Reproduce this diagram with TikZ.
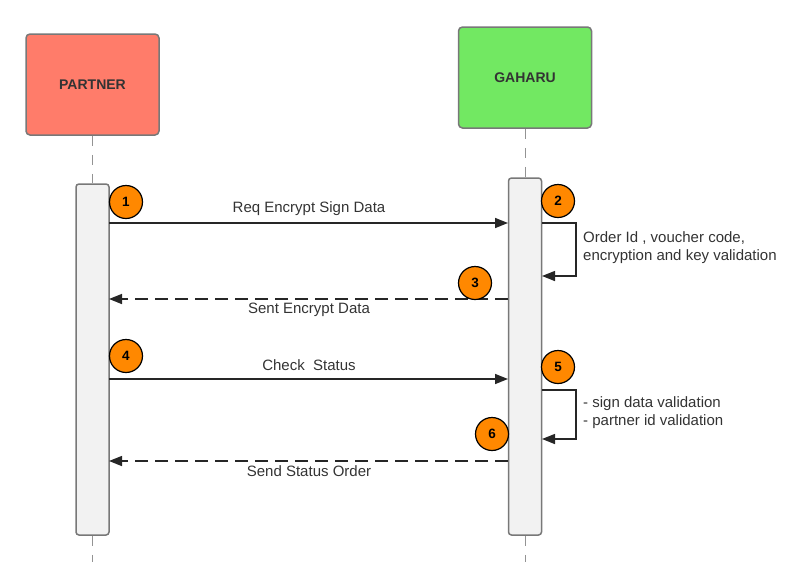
\documentclass[tikz,border=0pt]{standalone}
\usepackage{fontspec}
\setmainfont{Liberation Sans}
\usetikzlibrary{arrows.meta}
\definecolor{partnerred}{RGB}{255,124,106}
\definecolor{gaharugreen}{RGB}{114,232,98}
\definecolor{boxgray}{RGB}{120,120,120}
\definecolor{barfill}{RGB}{242,242,242}
\definecolor{txtgray}{RGB}{51,51,51}
\definecolor{stepor}{RGB}{255,136,0}
\tikzset{
  actor/.style={draw=boxgray, line width=1.5pt, rounded corners=4pt, inner sep=0pt,
    minimum width=133pt, minimum height=101pt, text=txtgray,
    font=\fontsize{14pt}{16pt}\selectfont\bfseries},
  actbar/.style={draw=boxgray, line width=1.5pt, fill=barfill, rounded corners=3pt,
    inner sep=0pt, minimum width=33pt},
  lifeline/.style={draw=boxgray!80, line width=1pt, dash pattern=on 10pt off 9pt},
  msg/.style={draw=black!85, line width=1.5pt, -{Triangle[length=13pt,width=10pt]}},
  retmsg/.style={msg, dash pattern=on 13pt off 7pt},
  stepnum/.style={circle, draw=black, line width=1.2pt, fill=stepor, minimum size=33pt,
    inner sep=0pt, font=\fontsize{13.5pt}{15pt}\selectfont\bfseries},
  msglabel/.style={text=txtgray, font=\fontsize{15pt}{18pt}\selectfont, inner sep=0pt},
  notelabel/.style={text=txtgray, font=\fontsize{15pt}{18pt}\selectfont, inner sep=0pt,
    align=left, anchor=west}
}
\begin{document}
\begin{tikzpicture}[x=1pt,y=-1pt]
\useasboundingbox (0,0) rectangle (802,576);
% actors
\node[actor, fill=partnerred] (partner) at (92.5,84.5) {PARTNER};
\node[actor, fill=gaharugreen] (gaharu) at (525,77.5) {GAHARU};
% activation bars
\node[actbar, minimum height=351pt] (barL) at (92.5,359.5) {};
\node[actbar, minimum height=357pt] (barR) at (525,356.5) {};
% lifelines
\coordinate (endL) at (92.5,562);
\coordinate (endR) at (525,562);
\draw[lifeline] (partner.south) -- (barL.north);
\draw[lifeline] (gaharu.south) -- (barR.north);
\draw[lifeline] (barL.south) -- (endL);
\draw[lifeline] (barR.south) -- (endR);
% message 1
\coordinate (m1s) at (109,223);
\coordinate (m1e) at (508,223);
\draw[msg] (m1s) -- (m1e);
\node[msglabel] (l1) at (309,209) {Req Encrypt Sign Data};
\node[stepnum] (c1) at (126,202) {1};
% self call 2
\coordinate (m2s) at (542,223);
\coordinate (m2e) at (542,276);
\draw[msg] (m2s) -- ++(34,0) |- (m2e);
\node[notelabel] (l2) at (583,248) {Order Id , voucher code,\\encryption and key validation};
\node[stepnum] (c2) at (558,201) {2};
% message 3
\coordinate (m3s) at (508,299);
\coordinate (m3e) at (109,299);
\draw[retmsg] (m3s) -- (m3e);
\node[msglabel] (l3) at (309,310) {Sent Encrypt Data};
\node[stepnum] (c3) at (475,283) {3};
% message 4
\coordinate (m4s) at (109,379);
\coordinate (m4e) at (508,379);
\draw[msg] (m4s) -- (m4e);
\node[msglabel] (l4) at (309,365) {Check\ \ Status};
\node[stepnum] (c4) at (126,356) {4};
% self call 5
\coordinate (m5s) at (542,390);
\coordinate (m5e) at (542,439);
\draw[msg] (m5s) -- ++(34,0) |- (m5e);
\node[notelabel] (l5) at (583,413) {- sign data validation\\- partner id validation};
\node[stepnum] (c5) at (558,367) {5};
% message 6
\coordinate (m6s) at (508,461);
\coordinate (m6e) at (109,461);
\draw[retmsg] (m6s) -- (m6e);
\node[msglabel] (l6) at (309,471) {Send Status Order};
\node[stepnum] (c6) at (492,434) {6};
\end{tikzpicture}
\end{document}
